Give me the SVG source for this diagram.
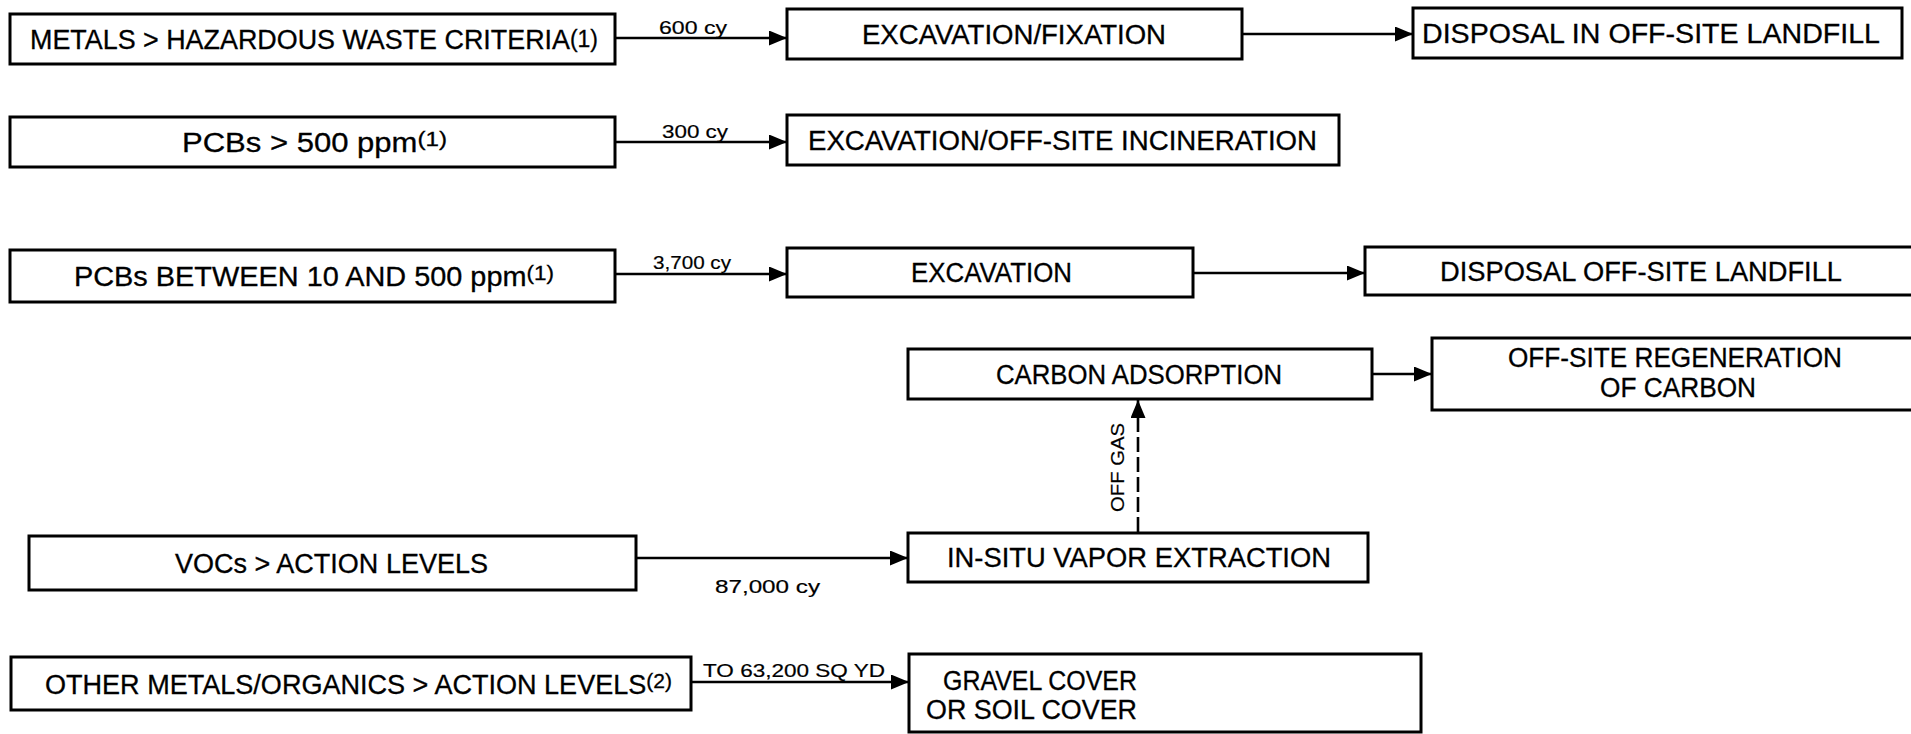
<svg xmlns="http://www.w3.org/2000/svg" width="1911" height="734" viewBox="0 0 1911 734">
<style>
.box{fill:#fff;stroke:#000;stroke-width:3}
.t{font-family:"Liberation Sans",Arial,sans-serif;font-size:27px;fill:#000;stroke:#000;stroke-width:0.3}
.s{font-family:"Liberation Sans",Arial,sans-serif;font-size:19px;fill:#000;stroke:#000;stroke-width:0.2}
.c{stroke:#000;stroke-width:2.6;fill:none}
</style>
<defs>
<marker id="ah" markerUnits="userSpaceOnUse" markerWidth="20" markerHeight="16" refX="18" refY="7.5" orient="auto">
<path d="M0,0 L18,7.5 L0,15 z" fill="#000"/>
</marker>
</defs>
<rect width="1911" height="734" fill="#fff"/>
<g id="connectors">
<line class="c" x1="615" y1="38" x2="787" y2="38" marker-end="url(#ah)"/>
<line class="c" x1="1242" y1="34" x2="1413" y2="34" marker-end="url(#ah)"/>
<line class="c" x1="615" y1="142" x2="787" y2="142" marker-end="url(#ah)"/>
<line class="c" x1="615" y1="274" x2="787" y2="274" marker-end="url(#ah)"/>
<line class="c" x1="1193" y1="273" x2="1365" y2="273" marker-end="url(#ah)"/>
<line class="c" x1="1372" y1="374" x2="1432" y2="374" marker-end="url(#ah)"/>
<line class="c" x1="636" y1="558" x2="908" y2="558" marker-end="url(#ah)"/>
<line class="c" x1="691" y1="682" x2="909" y2="682" marker-end="url(#ah)"/>
<line class="c" x1="1138" y1="532" x2="1138" y2="400" stroke-dasharray="15 5" marker-end="url(#ah)"/>
<text class="s" x="659" y="34" textLength="68" lengthAdjust="spacingAndGlyphs">600 cy</text>
<text class="s" x="662" y="138" textLength="66" lengthAdjust="spacingAndGlyphs">300 cy</text>
<text class="s" x="653" y="269" textLength="78" lengthAdjust="spacingAndGlyphs">3,700 cy</text>
<text class="s" x="715" y="593" textLength="105" lengthAdjust="spacingAndGlyphs">87,000 cy</text>
<text class="s" x="703" y="677" textLength="182" lengthAdjust="spacingAndGlyphs">TO 63,200 SQ YD</text>
<text class="s" transform="translate(1124,512) rotate(-90)" x="0" y="0" textLength="89" lengthAdjust="spacingAndGlyphs">OFF GAS</text>
</g>
<g id="n1"><rect class="box" x="10" y="14" width="605" height="50"/><text class="t" x="30" y="49" textLength="568" lengthAdjust="spacingAndGlyphs">METALS &gt; HAZARDOUS WASTE CRITERIA<tspan font-size="23" dy="-2">(1)</tspan></text></g>
<g id="n2"><rect class="box" x="787" y="9" width="455" height="50"/><text class="t" x="862" y="44" textLength="304" lengthAdjust="spacingAndGlyphs">EXCAVATION/FIXATION</text></g>
<g id="n3"><rect class="box" x="1413" y="8" width="489" height="50"/><text class="t" x="1422" y="43" textLength="458" lengthAdjust="spacingAndGlyphs">DISPOSAL IN OFF-SITE LANDFILL</text></g>
<g id="n4"><rect class="box" x="10" y="117" width="605" height="50"/><text class="t" x="182" y="152" textLength="265" lengthAdjust="spacingAndGlyphs">PCBs &gt; 500 ppm<tspan font-size="21" dy="-6">(1)</tspan></text></g>
<g id="n5"><rect class="box" x="787" y="115" width="552" height="50"/><text class="t" x="808" y="150" textLength="509" lengthAdjust="spacingAndGlyphs">EXCAVATION/OFF-SITE INCINERATION</text></g>
<g id="n6"><rect class="box" x="10" y="250" width="605" height="52"/><text class="t" x="74" y="286" textLength="480" lengthAdjust="spacingAndGlyphs">PCBs BETWEEN 10 AND 500 ppm<tspan font-size="21" dy="-6">(1)</tspan></text></g>
<g id="n7"><rect class="box" x="787" y="248" width="406" height="49"/><text class="t" x="911" y="282" textLength="161" lengthAdjust="spacingAndGlyphs">EXCAVATION</text></g>
<g id="n8"><rect class="box" x="1365" y="247" width="560" height="48"/><text class="t" x="1440" y="281" textLength="402" lengthAdjust="spacingAndGlyphs">DISPOSAL OFF-SITE LANDFILL</text></g>
<g id="n9"><rect class="box" x="908" y="349" width="464" height="50"/><text class="t" x="996" y="384" textLength="286" lengthAdjust="spacingAndGlyphs">CARBON ADSORPTION</text></g>
<g id="n10"><rect class="box" x="1432" y="338" width="493" height="72"/><text class="t" font-size="21" x="1508" y="367" textLength="334" lengthAdjust="spacingAndGlyphs">OFF-SITE REGENERATION</text><text class="t" font-size="21" x="1600" y="397" textLength="156" lengthAdjust="spacingAndGlyphs">OF CARBON</text></g>
<g id="n11"><rect class="box" x="29" y="536" width="607" height="54"/><text class="t" x="175" y="573" textLength="313" lengthAdjust="spacingAndGlyphs">VOCs &gt; ACTION LEVELS</text></g>
<g id="n12"><rect class="box" x="908" y="533" width="460" height="49"/><text class="t" x="947" y="567" textLength="384" lengthAdjust="spacingAndGlyphs">IN-SITU VAPOR EXTRACTION</text></g>
<g id="n13"><rect class="box" x="11" y="657" width="680" height="53"/><text class="t" x="45" y="694" textLength="627" lengthAdjust="spacingAndGlyphs">OTHER METALS/ORGANICS &gt; ACTION LEVELS<tspan font-size="21" dy="-6">(2)</tspan></text></g>
<g id="n14"><rect class="box" x="909" y="654" width="512" height="78"/><text class="t" x="943" y="690" textLength="194" lengthAdjust="spacingAndGlyphs">GRAVEL COVER</text><text class="t" x="926" y="719" textLength="211" lengthAdjust="spacingAndGlyphs">OR SOIL COVER</text></g>
</svg>
